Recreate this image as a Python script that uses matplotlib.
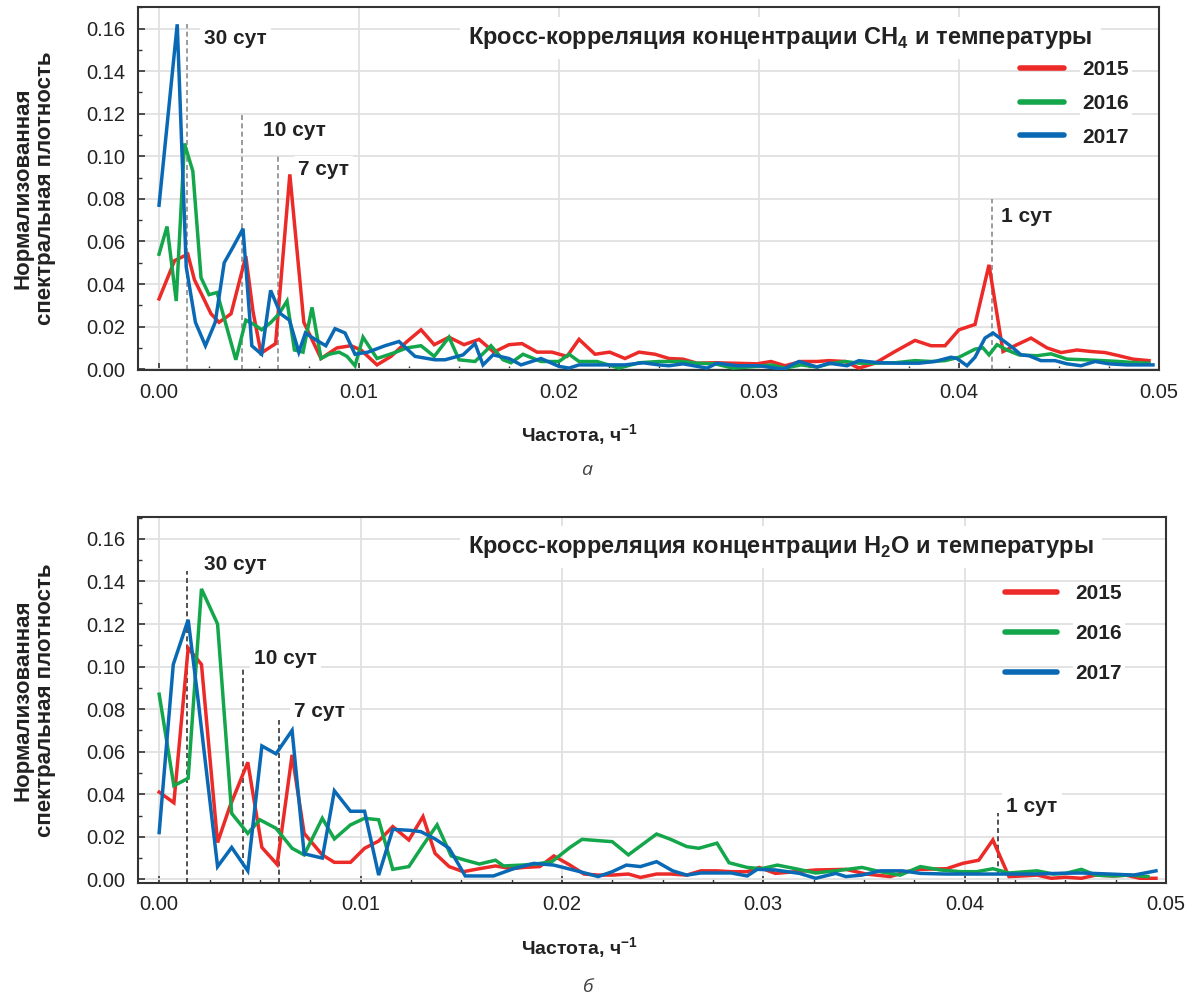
import matplotlib
matplotlib.use("Agg")
import matplotlib.pyplot as plt
from matplotlib.ticker import MultipleLocator

plt.rcParams['font.family'] = ['Liberation Sans', 'DejaVu Sans']
plt.rcParams['mathtext.fontset'] = 'custom'
plt.rcParams['mathtext.rm'] = 'Liberation Sans'
plt.rcParams['mathtext.bf'] = 'Liberation Sans:bold'

years = ["2015", "2016", "2017"]
colors = ["#ec2a27", "#13a64b", "#0a69b5"]

# Periods marked on the plots (days) and heights of the marker lines
periods_days = [30, 10, 7, 1]
period_labels = ["30 сут", "10 сут", "7 сут", "1 сут"]
marker_top_ch4 = [0.162, 0.12, 0.10, 0.08]
marker_top_h2o = [0.145, 0.10, 0.075, 0.031]

# ---- CH4 x temperature (panel a) ----
ch4_f_2015 = [0, 0.00078, 0.00144, 0.00177, 0.00219, 0.0026, 0.003, 0.0036, 0.00434, 0.0047,
              0.0051, 0.00583, 0.00654, 0.00724, 0.0081, 0.0089, 0.0096, 0.0101, 0.0109, 0.0116,
              0.0124, 0.0131, 0.01376, 0.0145, 0.01525, 0.016, 0.01674, 0.0175, 0.01815, 0.0189,
              0.01964, 0.0204, 0.021, 0.0218, 0.02253, 0.0233, 0.024, 0.0248, 0.0255, 0.0262,
              0.0269, 0.0278, 0.0287, 0.0299, 0.0306, 0.0313, 0.0321, 0.0329, 0.0335, 0.0343,
              0.035, 0.0358, 0.0368, 0.0378, 0.0386, 0.0393, 0.04, 0.0408, 0.0415, 0.0422,
              0.0429, 0.0436, 0.0444, 0.0451, 0.0459, 0.0466, 0.0473, 0.048, 0.0487, 0.0495]
ch4_v_2015 = [0.033, 0.051, 0.054, 0.042, 0.034, 0.026, 0.022, 0.026, 0.053, 0.027,
              0.0075, 0.012, 0.0915, 0.022, 0.005, 0.010, 0.011, 0.009, 0.002, 0.006,
              0.013, 0.0185, 0.0115, 0.015, 0.0115, 0.014, 0.008, 0.0115, 0.012, 0.008,
              0.008, 0.006, 0.014, 0.007, 0.008, 0.005, 0.008, 0.007, 0.005, 0.0047,
              0.0028, 0.003, 0.0028, 0.0025, 0.0036, 0.0016, 0.0036, 0.0036, 0.004, 0.0036,
              0.0005, 0.0028, 0.0083, 0.0135, 0.011, 0.011, 0.0185, 0.021, 0.049, 0.0083,
              0.0115, 0.0146, 0.010, 0.0078, 0.009, 0.0083, 0.0078, 0.0063, 0.0047, 0.004]

ch4_f_2016 = [0, 0.0004, 0.00086, 0.00127, 0.00169, 0.0021, 0.0025, 0.0029, 0.00384, 0.00434,
              0.00475, 0.00513, 0.0056, 0.006, 0.0064, 0.00677, 0.0072, 0.00765, 0.0081, 0.0085,
              0.009, 0.0094, 0.0098, 0.0102, 0.0109, 0.0117, 0.0124, 0.0131, 0.01376, 0.0145,
              0.015, 0.0158, 0.0166, 0.0172, 0.0176, 0.0182, 0.0191, 0.02, 0.0205, 0.021,
              0.0219, 0.023, 0.024, 0.025, 0.0258, 0.0262, 0.0269, 0.0278, 0.0287, 0.0299,
              0.0306, 0.0313, 0.0321, 0.0329, 0.0335, 0.0343, 0.035, 0.0358, 0.0368, 0.0378,
              0.0386, 0.0393, 0.04, 0.0408, 0.0412, 0.0415, 0.0419, 0.0424, 0.043, 0.0439,
              0.0446, 0.0454, 0.0463, 0.0472, 0.048, 0.0489, 0.0495]
ch4_v_2016 = [0.054, 0.067, 0.032, 0.106, 0.093, 0.043, 0.035, 0.036, 0.0044, 0.023,
              0.021, 0.0185, 0.022, 0.026, 0.032, 0.009, 0.008, 0.029, 0.005, 0.007,
              0.008, 0.006, 0.0016, 0.015, 0.005, 0.0075, 0.010, 0.011, 0.006, 0.015,
              0.0044, 0.0036, 0.011, 0.0044, 0.003, 0.007, 0.0036, 0.0036, 0.007, 0.0036,
              0.0036, 0.0005, 0.003, 0.0036, 0.0036, 0.0036, 0.0028, 0.0025, 0.0005, 0.0013,
              0.002, 0.0005, 0.002, 0.001, 0.0025, 0.0036, 0.0028, 0.0028, 0.003, 0.004,
              0.0036, 0.004, 0.0056, 0.0094, 0.010, 0.0067, 0.0115, 0.009, 0.0067, 0.0063,
              0.0072, 0.0047, 0.0044, 0.004, 0.0036, 0.003, 0.0028]

ch4_f_2017 = [0, 0.00091, 0.00136, 0.00182, 0.00232, 0.00281, 0.00326, 0.00368, 0.0042, 0.00464,
              0.00513, 0.00558, 0.00608, 0.00652, 0.00699, 0.00732, 0.0078, 0.00834, 0.0088, 0.0093,
              0.0098, 0.01045, 0.0113, 0.012, 0.0128, 0.0138, 0.0143, 0.0152, 0.0158, 0.0162,
              0.0167, 0.0175, 0.0181, 0.0191, 0.02, 0.0205, 0.021, 0.0219, 0.0225, 0.0233,
              0.0242, 0.025, 0.0255, 0.0262, 0.0274, 0.0279, 0.0289, 0.03, 0.0312, 0.032,
              0.0329, 0.0335, 0.0344, 0.035, 0.036, 0.037, 0.038, 0.0388, 0.0396, 0.0399,
              0.0404, 0.0408, 0.0413, 0.0417, 0.0422, 0.0427, 0.0431, 0.0435, 0.0441, 0.0448,
              0.0454, 0.0461, 0.0468, 0.0475, 0.0484, 0.049, 0.0497]
ch4_v_2017 = [0.077, 0.162, 0.048, 0.022, 0.011, 0.022, 0.050, 0.057, 0.066, 0.011,
              0.007, 0.037, 0.026, 0.023, 0.008, 0.017, 0.014, 0.011, 0.019, 0.017,
              0.007, 0.008, 0.011, 0.013, 0.006, 0.0044, 0.0044, 0.0067, 0.012, 0.002,
              0.0067, 0.005, 0.002, 0.005, 0.0013, 0.0005, 0.002, 0.002, 0.002, 0.002,
              0.003, 0.002, 0.0016, 0.0025, 0.0005, 0.0028, 0.0016, 0.0016, 0.0, 0.0036,
              0.001, 0.0028, 0.0016, 0.004, 0.003, 0.0028, 0.0028, 0.0036, 0.0056, 0.005,
              0.0016, 0.0056, 0.0146, 0.017, 0.0135, 0.010, 0.0067, 0.0063, 0.004, 0.004,
              0.0025, 0.0016, 0.0036, 0.0025, 0.002, 0.002, 0.002]

# ---- H2O x temperature (panel б) ----
h2o_f_2015 = [0, 0.00073, 0.00144, 0.0021, 0.0029, 0.0035, 0.0044, 0.0051, 0.00586, 0.0066,
              0.0072, 0.0081, 0.0087, 0.0095, 0.0102, 0.0109, 0.0116, 0.0124, 0.0131, 0.0137,
              0.0144, 0.0151, 0.0159, 0.0167, 0.0175, 0.0181, 0.0189, 0.0196, 0.0204, 0.0211,
              0.0218, 0.0225, 0.0233, 0.0239, 0.0247, 0.0254, 0.0262, 0.0269, 0.0277, 0.0284,
              0.0292, 0.0298, 0.0306, 0.0316, 0.0326, 0.0341, 0.0351, 0.0363, 0.0371, 0.0378,
              0.0391, 0.0399, 0.0407, 0.0414, 0.0422, 0.0429, 0.0436, 0.0443, 0.045, 0.0458,
              0.0465, 0.0474, 0.048, 0.0487, 0.0495]
h2o_v_2015 = [0.041, 0.036, 0.1087, 0.101, 0.0173, 0.034, 0.055, 0.015, 0.007, 0.0585,
              0.0216, 0.0115, 0.008, 0.008, 0.0146, 0.018, 0.0248, 0.0185, 0.0295, 0.0122,
              0.006, 0.0036, 0.005, 0.0063, 0.005, 0.0056, 0.006, 0.011, 0.0067, 0.0025,
              0.002, 0.002, 0.0025, 0.0009, 0.0025, 0.0025, 0.002, 0.004, 0.004, 0.0036,
              0.0036, 0.0056, 0.0028, 0.0036, 0.0044, 0.0047, 0.0025, 0.0013, 0.0036, 0.0047,
              0.005, 0.0075, 0.009, 0.0185, 0.0013, 0.0016, 0.002, 0.0005, 0.001, 0.0005,
              0.002, 0.0016, 0.002, 0.0005, 0.0005]

h2o_f_2016 = [0, 0.00073, 0.00144, 0.0021, 0.0029, 0.0036, 0.0044, 0.005, 0.0058, 0.0066,
              0.0072, 0.0081, 0.0087, 0.0095, 0.0102, 0.0109, 0.0116, 0.0124, 0.0131, 0.0138,
              0.0145, 0.0152, 0.0159, 0.0167, 0.0171, 0.018, 0.0187, 0.0195, 0.0204, 0.021,
              0.0218, 0.0225, 0.0233, 0.0239, 0.0247, 0.0254, 0.0262, 0.0268, 0.0277, 0.0283,
              0.0292, 0.0299, 0.0307, 0.0316, 0.0326, 0.0336, 0.0349, 0.0358, 0.0368, 0.0378,
              0.0388, 0.0398, 0.0406, 0.0414, 0.0422, 0.0436, 0.0444, 0.045, 0.0458, 0.0465,
              0.0474, 0.0482, 0.0491]
h2o_v_2016 = [0.087, 0.044, 0.0475, 0.1365, 0.12, 0.031, 0.0216, 0.028, 0.024, 0.0146,
              0.0115, 0.0287, 0.019, 0.0256, 0.0287, 0.028, 0.0047, 0.006, 0.016, 0.0256,
              0.011, 0.009, 0.0072, 0.009, 0.0063, 0.0067, 0.0072, 0.0083, 0.015, 0.0188,
              0.0182, 0.0177, 0.0115, 0.0157, 0.0213, 0.0188, 0.0154, 0.0146, 0.017, 0.0078,
              0.0056, 0.005, 0.0067, 0.005, 0.003, 0.004, 0.0056, 0.0036, 0.002, 0.006,
              0.0044, 0.0036, 0.0036, 0.005, 0.003, 0.004, 0.0025, 0.0028, 0.0047, 0.002,
              0.0016, 0.002, 0.0013]

h2o_f_2017 = [0, 0.0007, 0.00144, 0.0019, 0.0029, 0.0036, 0.0044, 0.0051, 0.0058, 0.0066,
              0.0072, 0.0081, 0.0087, 0.0095, 0.0102, 0.0109, 0.0116, 0.0125, 0.013, 0.0137,
              0.0144, 0.0152, 0.0166, 0.0176, 0.0186, 0.0196, 0.0209, 0.0218, 0.0225, 0.0232,
              0.0239, 0.0247, 0.0255, 0.0262, 0.0269, 0.0277, 0.0284, 0.0292, 0.0297, 0.0306,
              0.0318, 0.0326, 0.0336, 0.0341, 0.0349, 0.0358, 0.0369, 0.0378, 0.0391, 0.0401,
              0.0411, 0.0421, 0.0434, 0.0446, 0.0458, 0.0472, 0.0484, 0.0495]
h2o_v_2017 = [0.022, 0.101, 0.122, 0.087, 0.006, 0.015, 0.004, 0.0627, 0.059, 0.070,
              0.012, 0.010, 0.0416, 0.032, 0.032, 0.002, 0.0235, 0.023, 0.0224, 0.019,
              0.0146, 0.0016, 0.0016, 0.005, 0.0075, 0.0067, 0.0036, 0.0013, 0.0036, 0.0067,
              0.006, 0.0083, 0.004, 0.002, 0.003, 0.003, 0.003, 0.0016, 0.0047, 0.0044,
              0.0028, 0.0005, 0.0028, 0.0013, 0.002, 0.004, 0.004, 0.0028, 0.0025, 0.0025,
              0.0025, 0.0025, 0.0025, 0.0028, 0.003, 0.0025, 0.002, 0.004]


def draw_panel(ax, freqs, values, title, marker_tops, label_pos, title_pos, ylim,
               marker_color, leg_anchor, leg_handlelen, leg_spacing):
    for f, v, c, y in zip(freqs, values, colors, years):
        ax.plot(f, v, color=c, lw=2.5, label=y, solid_joinstyle='miter', zorder=3)

    ax.set_xlim(-0.00105, 0.05)
    ax.set_ylim(*ylim)
    ax.xaxis.set_major_locator(MultipleLocator(0.01))
    ax.xaxis.set_minor_locator(MultipleLocator(0.0025))
    ax.yaxis.set_major_locator(MultipleLocator(0.02))
    ax.yaxis.set_minor_locator(MultipleLocator(0.01))
    ax.xaxis.set_major_formatter(plt.FormatStrFormatter('%.2f'))
    ax.yaxis.set_major_formatter(plt.FormatStrFormatter('%.2f'))
    ax.grid(True, which='major', color='#e0e0e0', lw=1.3, zorder=0)
    ax.set_axisbelow(True)
    ax.tick_params(which='both', direction='in', color='#333333', labelsize=14.5,
                   labelcolor='#222222')
    ax.tick_params(which='major', length=5, width=1.2)
    ax.tick_params(which='minor', length=3, width=1.0)
    ax.tick_params(axis='x', pad=9)
    ax.tick_params(axis='y', pad=9)
    for s in ax.spines.values():
        s.set_color('#333333')
        s.set_linewidth(1.5)

    # period markers
    for d, top, lab, pos in zip(periods_days, marker_tops, period_labels, label_pos):
        fr = 1.0 / (24 * d)
        ax.vlines(fr, ylim[0], top, colors=marker_color, linestyles=(0, (3, 2)),
                  lw=1.2, zorder=2)
        ax.text(pos[0], pos[1], lab, fontsize=15, fontweight='bold', color='#222222',
                ha='left', va='center', zorder=4,
                bbox=dict(facecolor='white', edgecolor='none', pad=3))

    ax.text(title_pos[0], title_pos[1], title, fontsize=17, fontweight='bold',
            color='#222222', ha='left', va='center', zorder=4,
            bbox=dict(facecolor='white', edgecolor='none', pad=6))

    leg = ax.legend(loc='upper left', bbox_to_anchor=leg_anchor, frameon=False,
                    fontsize=15, handlelength=leg_handlelen, handletextpad=0.9,
                    labelspacing=leg_spacing, borderpad=0, borderaxespad=0)
    for t in leg.get_texts():
        t.set_fontweight('bold')
        t.set_color('#222222')
        t.set_bbox(dict(facecolor='white', edgecolor='none', pad=2))
    for h in leg.get_lines():
        h.set_linewidth(4)
        h.set_solid_capstyle('round')


fig = plt.figure(figsize=(11.93, 10.06), dpi=100)
ax1 = fig.add_axes([0.1157, 0.6322, 0.9715 - 0.1157, 0.9930 - 0.6322])
ax2 = fig.add_axes([0.1157, 0.1223, 0.9774 - 0.1157, 0.4861 - 0.1223])

draw_panel(ax1,
           [ch4_f_2015, ch4_f_2016, ch4_f_2017],
           [ch4_v_2015, ch4_v_2016, ch4_v_2017],
           'Кросс-корреляция концентрации CH$_{\\mathbf{4}}$ и температуры',
           marker_top_ch4,
           [(0.00225, 0.1555), (0.0052, 0.1123), (0.00695, 0.0936), (0.04208, 0.0715)],
           (0.01545, 0.1555), (-0.0004, 0.1701), '#8a8a8a',
           (0.864, 0.854), 2.1, 0.71)

draw_panel(ax2,
           [h2o_f_2015, h2o_f_2016, h2o_f_2017],
           [h2o_v_2015, h2o_v_2016, h2o_v_2017],
           'Кросс-корреляция концентрации H$_{\\mathbf{2}}$O и температуры',
           marker_top_h2o,
           [(0.00224, 0.1482), (0.00473, 0.104), (0.0067, 0.0787), (0.04206, 0.0344)],
           (0.01536, 0.1561), (-0.0017, 0.1703), '#333333',
           (0.843, 0.816), 2.5, 1.0)

ylab = 'Нормализованная\nспектральная плотность'
for yc in [0.813, 0.304]:
    fig.text(0.029, yc, ylab, rotation=90, ha='center', va='center', fontsize=16,
             fontweight='bold', color='#222222', linespacing=1.1)

xlab = 'Частота, ч$^{\\mathbf{-1}}$'
for yc in [0.5676, 0.0577]:
    fig.text(0.486, yc, xlab, ha='center', va='center', fontsize=14,
             fontweight='bold', color='#222222')

fig.text(0.492, 0.533, 'а', ha='center', va='center', fontsize=14, style='italic',
         color='#444444', family=['Open Sans', 'DejaVu Sans'])
fig.text(0.492, 0.019, 'б', ha='center', va='center', fontsize=14, style='italic',
         color='#444444', family=['Open Sans', 'DejaVu Sans'])

fig.savefig('out.png', dpi=100)
